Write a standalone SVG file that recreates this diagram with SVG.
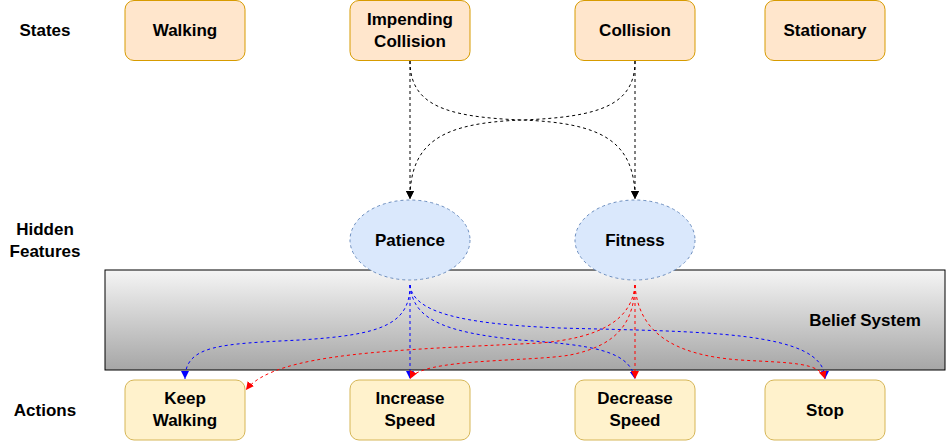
<svg xmlns="http://www.w3.org/2000/svg" width="947" height="441" viewBox="0 0 947 441">
<defs>
<linearGradient id="bg" x1="0" y1="0" x2="0" y2="1">
<stop offset="0" stop-color="#f5f5f5"/>
<stop offset="1" stop-color="#a6a6a6"/>
</linearGradient>
<marker id="ak" markerUnits="userSpaceOnUse" markerWidth="10" markerHeight="10" viewBox="0 0 10 10" refX="8" refY="4" orient="auto"><path d="M0,0 L8,4 L0,8 z" fill="#000"/></marker>
<marker id="ab" markerUnits="userSpaceOnUse" markerWidth="10" markerHeight="10" viewBox="0 0 10 10" refX="8" refY="4" orient="auto"><path d="M0,0 L8,4 L0,8 z" fill="#0000ff"/></marker>
<marker id="ar" markerUnits="userSpaceOnUse" markerWidth="10" markerHeight="10" viewBox="0 0 10 10" refX="8" refY="4" orient="auto"><path d="M0,0 L8,4 L0,8 z" fill="#ff0000"/></marker>
</defs>
<style>
text{font-family:"Liberation Sans",Arial,sans-serif;font-weight:bold;font-size:17px;fill:#000;text-anchor:middle}
.state{fill:#ffe6cc;stroke:#d79b00;stroke-width:1}
.action{fill:#fff2cc;stroke:#d6b656;stroke-width:1}
.hid{fill:#dae8fc;stroke:#6c8ebf;stroke-width:1;stroke-dasharray:3 3}
.e{fill:none;stroke-width:1;stroke-dasharray:3 3}
.k{stroke:#000;marker-end:url(#ak)}
.b{stroke:#0000ff;marker-end:url(#ab)}
.r{stroke:#ff0000;marker-end:url(#ar)}
</style>
<g id="row-labels">
<text x="45" y="36">States</text>
<text x="45" y="235">Hidden</text>
<text x="45" y="257">Features</text>
<text x="45" y="416">Actions</text>
</g>
<g id="belief-system">
<rect x="105" y="270" width="840" height="100" fill="url(#bg)" stroke="#000" stroke-width="1"/>
<text x="865" y="326">Belief System</text>
</g>
<g id="walking"><rect class="state" x="125" y="0.5" width="120" height="60" rx="9"/><text x="185" y="36">Walking</text></g>
<g id="impending-collision"><rect class="state" x="350" y="0.5" width="120" height="60" rx="9"/><text x="410" y="25">Impending</text><text x="410" y="47">Collision</text></g>
<g id="collision"><rect class="state" x="575" y="0.5" width="120" height="60" rx="9"/><text x="635" y="36">Collision</text></g>
<g id="stationary"><rect class="state" x="765" y="0.5" width="120" height="60" rx="9"/><text x="825" y="36">Stationary</text></g>
<g id="patience"><ellipse class="hid" cx="410" cy="240" rx="60" ry="40"/><text x="410" y="246">Patience</text></g>
<g id="fitness"><ellipse class="hid" cx="635" cy="240" rx="60" ry="40"/><text x="635" y="246">Fitness</text></g>
<g id="keep-walking"><rect class="action" x="125" y="380" width="120" height="60" rx="9"/><text x="185" y="404">Keep</text><text x="185" y="426">Walking</text></g>
<g id="increase-speed"><rect class="action" x="350" y="380" width="120" height="60" rx="9"/><text x="410" y="404">Increase</text><text x="410" y="426">Speed</text></g>
<g id="decrease-speed"><rect class="action" x="575" y="380" width="120" height="60" rx="9"/><text x="635" y="404">Decrease</text><text x="635" y="426">Speed</text></g>
<g id="stop"><rect class="action" x="765" y="380" width="120" height="60" rx="9"/><text x="825" y="416">Stop</text></g>
<g id="connectors">
<path class="e k" d="M410 61 L410 199"/>
<path class="e k" d="M635 61 L635 199"/>
<path class="e k" d="M410 61 C410 105, 445 117, 522 120 C600 123, 635 140, 635 199"/>
<path class="e k" d="M635 61 C635 105, 600 117, 522 120 C445 123, 410 140, 410 199"/>
<path class="e b" d="M410 285 C410 325, 380 335, 300 340 C220 344, 185 345, 185 379"/>
<path class="e b" d="M410 285 L410 379"/>
<path class="e b" d="M410 285 C413 318, 440 332, 520 340 C590 345, 630 350, 635 379"/>
<path class="e b" d="M410 285 C413 312, 460 324, 560 328 C700 332, 825 330, 825 379"/>
<path class="e r" d="M635 285 C632 320, 600 338, 540 343 C400 350, 275 352, 246 390"/>
<path class="e r" d="M635 285 C634 320, 620 345, 570 355 C530 362, 420 358, 410 379"/>
<path class="e r" d="M635 285 L635 379"/>
<path class="e r" d="M635 285 C638 330, 670 355, 740 360 C790 363, 820 362, 825 379"/>
</g>
</svg>
